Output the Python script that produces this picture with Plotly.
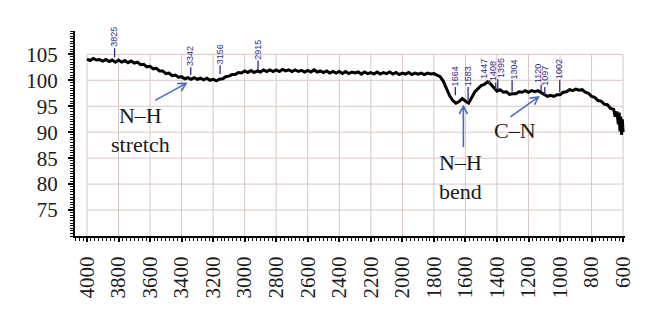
import math
import plotly.graph_objects as go

# ---------------- data ----------------
wavenumber = list(range(4000, 660, -20)) + [660, 650, 640, 630, 625, 620, 615, 610, 605, 600]
transmittance = [
    104.1, 103.8, 104.2, 103.9, 104.0, 103.7, 104.0, 103.6, 103.9, 103.5,
    103.9, 103.5, 103.8, 103.4, 103.7, 103.3, 103.5, 103.0, 103.1, 102.6,
    102.7, 102.2, 102.3, 101.8, 101.8, 101.3, 101.4, 100.9, 101.0, 100.6,
    100.7, 100.3, 100.5, 100.2, 100.5, 100.2, 100.4, 100.1, 100.4, 100.0,
    100.2, 99.9, 100.2, 100.3, 100.7, 100.8, 101.1, 101.1, 101.5, 101.4,
    101.8, 101.5, 101.9, 101.5, 101.8, 101.6, 102.0, 101.7, 102.0, 101.7,
    102.0, 101.7, 102.1, 101.8, 102.0, 101.7, 102.0, 101.7, 101.9, 101.6,
    101.9, 101.6, 102.0, 101.6, 101.8, 101.5, 101.8, 101.4, 101.7, 101.4,
    101.7, 101.3, 101.7, 101.3, 101.6, 101.4, 101.6, 101.2, 101.6, 101.3,
    101.5, 101.2, 101.6, 101.2, 101.5, 101.3, 101.6, 101.2, 101.5, 101.1,
    101.4, 101.2, 101.5, 101.1, 101.4, 101.2, 101.4, 101.1, 101.4, 101.2,
    101.3, 101.0, 100.7, 99.8, 98.4, 97.0, 96.1, 95.6, 95.9, 96.5,
    96.0, 95.6, 96.7, 97.8, 98.4, 99.0, 99.2, 99.7, 99.3, 98.6,
    97.9, 98.2, 97.7, 97.8, 97.3, 97.4, 97.4, 97.8, 97.7, 98.0,
    97.7, 98.0, 97.8, 98.0, 97.6, 97.2, 96.9, 97.1, 96.9, 97.2,
    97.2, 97.7, 97.8, 98.2, 98.0, 98.3, 98.1, 98.2, 97.7, 97.5,
    96.9, 96.7, 96.1, 96.0, 95.4, 95.3, 94.6,
    94.4, 93.0, 94.0, 91.5, 93.8, 90.2, 93.0, 89.5, 92.5, 90.0,
]
assert len(wavenumber) == len(transmittance), (len(wavenumber), len(transmittance))

x_ticks = list(range(4000, 599, -200))
y_ticks = [75, 80, 85, 90, 95, 100, 105]

peak_labels = ["3825", "3342", "3156", "2915", "1664", "1583", "1447",
               "1408", "1395", "1304", "1120", "1097", "1002"]
peak_pos = [3825, 3342, 3156, 2915, 1664, 1583, 1447, 1408, 1395, 1304, 1120, 1097, 1002]
peak_tick_bottom = [104.4, 101.0, 101.2, 101.9, 97.1, 96.2, 99.2, 98.2, 98.3, 97.8, 97.9, 97.1, 97.7]
peak_tick_top = [106.2, 102.5, 102.9, 103.8, 98.7, 98.7, 100.0, 99.6, 100.2, 100.0, 99.2, 98.7, 100.0]
peak_shift = [0, 0, 0, 0, 0, 0, -5, -2, 4, 2, -3, 0, 0]

band_text = ["N\u2013H<br>stretch", "N\u2013H<br>bend", "C\u2013N"]
band_x = [3663, 1632, 1283]
band_y = [90.4, 81.3, 90.4]
arrow_tip_x = [3371, 1613, 1137]
arrow_tip_y = [99.4, 95.0, 96.8]
arrow_tail_dx = [-31, 0, -28]   # pixels
arrow_tail_dy = [-17, -41, -20]  # pixels (up positive)

# ---------------- figure ----------------
GRID = "#d9c7c3"
LABEL = "#33288a"
ARROW = "#4a6cc0"
SERIF = "Liberation Serif"

fig = go.Figure()
fig.add_trace(go.Scatter(x=wavenumber, y=transmittance, mode="lines",
                         line=dict(color="black", width=3), hoverinfo="skip"))

shapes = []
for xv in x_ticks:
    shapes.append(dict(type="line", xref="x", yref="y", x0=xv, x1=xv, y0=70, y1=105,
                       line=dict(color=GRID, width=1), layer="below"))
for yv in y_ticks:
    shapes.append(dict(type="line", xref="x", yref="y", x0=4000, x1=600, y0=yv, y1=yv,
                       line=dict(color=GRID, width=1), layer="below"))

annotations = []
for lab, px, yb, yt, sh in zip(peak_labels, peak_pos, peak_tick_bottom, peak_tick_top, peak_shift):
    shapes.append(dict(type="line", xref="x", yref="y", x0=px, x1=px, y0=yb, y1=yt,
                       line=dict(color=LABEL, width=1.3)))
    annotations.append(dict(x=px, y=yt, xref="x", yref="y", text=lab, showarrow=False,
                            textangle=-90, xanchor="center", yanchor="bottom", xshift=sh,
                            borderpad=0,
                            font=dict(family="Liberation Sans", size=9, color=LABEL)))

for t, bx, by in zip(band_text, band_x, band_y):
    annotations.append(dict(x=bx, y=by, xref="x", yref="y", text=t, showarrow=False,
                            xanchor="center", yanchor="middle",
                            font=dict(family=SERIF, size=22, color="#1a1a1a")))

for tx, ty, dx, dy in zip(arrow_tip_x, arrow_tip_y, arrow_tail_dx, arrow_tail_dy):
    L = math.hypot(dx, dy)
    ux, uy = dx / L, dy / L
    head = 9
    ang = math.radians(28)
    h1x = head * (ux * math.cos(ang) - uy * math.sin(ang))
    h1y = head * (ux * math.sin(ang) + uy * math.cos(ang))
    h2x = head * (ux * math.cos(-ang) - uy * math.sin(-ang))
    h2y = head * (ux * math.sin(-ang) + uy * math.cos(-ang))
    path = (f"M {dx:.2f} {dy:.2f} L 0 0 M {h1x:.2f} {h1y:.2f} L 0 0 L {h2x:.2f} {h2y:.2f}")
    shapes.append(dict(type="path", xref="x", yref="y", xsizemode="pixel", ysizemode="pixel",
                       xanchor=tx, yanchor=ty, path=path,
                       line=dict(color=ARROW, width=1.6)))

fig.update_layout(
    width=652, height=314,
    margin=dict(l=67, r=35, t=23, b=86, autoexpand=False),
    paper_bgcolor="white", plot_bgcolor="white",
    showlegend=False,
    shapes=shapes, annotations=annotations,
    xaxis=dict(range=[4076, 588], tickmode="array", tickvals=x_ticks,
               ticktext=[str(v) for v in x_ticks], tickangle=-90,
               showgrid=False, zeroline=False, automargin=False,
               showline=True, linecolor="black", linewidth=2,
               ticks="outside", ticklen=4, tickcolor="black", tickwidth=1.5,
               ticklabelstandoff=6,
               minor=dict(tick0=600, dtick=25, ticks="outside", ticklen=3,
                          tickcolor="black", tickwidth=1, showgrid=False),
               tickfont=dict(family=SERIF, size=21, color="#1a1a1a")),
    yaxis=dict(range=[70, 109.5], tickmode="array", tickvals=y_ticks,
               ticktext=[str(v) for v in y_ticks],
               showgrid=False, zeroline=False, automargin=False,
               showline=True, linecolor="black", linewidth=2,
               ticks="outside", ticklen=5, tickcolor="black", tickwidth=1.5,
               ticklabelstandoff=6,
               minor=dict(tick0=70, dtick=0.5, ticks="outside", ticklen=3,
                          tickcolor="black", tickwidth=1, showgrid=False),
               tickfont=dict(family=SERIF, size=21, color="#1a1a1a")),
)

fig.write_html("out.html")
